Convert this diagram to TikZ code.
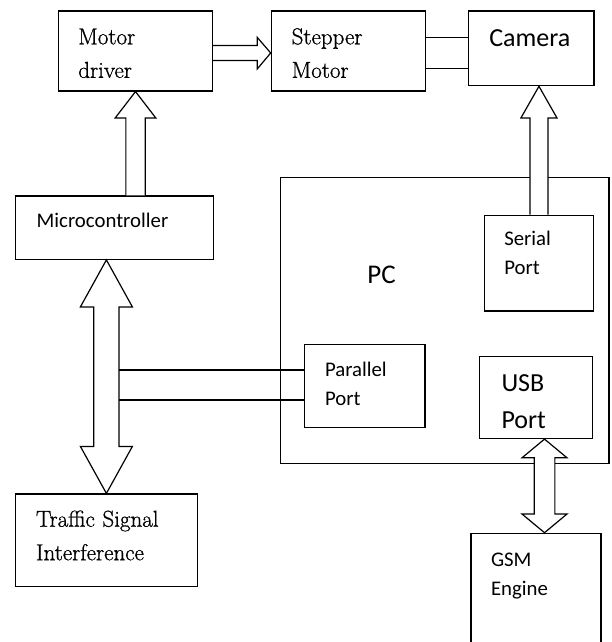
\documentclass[tikz,border=0pt]{standalone}
\usepackage{fontspec}
\setsansfont{Carlito}
\newfontfamily\bookfont{Latin Modern Roman}[FakeBold=0.9]
\usetikzlibrary{calc}

\begin{document}
\begin{tikzpicture}[x=1pt,y=-1pt,line join=miter,
  box/.style={draw,line width=1.2pt,inner sep=0pt,align=left,text height=0pt},
  rm/.style={font=\bookfont\fontsize{23}{33.5}\selectfont},
  sf/.style={font=\sffamily\fontsize{20.8}{29}\selectfont},
  sfbig/.style={font=\sffamily\fontsize{26}{36.6}\selectfont},
  blk/.style={draw,fill=white,line width=1.2pt},
  ln/.style={draw,line width=1.2pt}]
\useasboundingbox (0,0) rectangle (611,642);
\clip (0,0) rectangle (611,642);
% top row
\node[box,rm,minimum width=154pt,minimum height=80pt,text width=114.4pt,text depth=13.4pt] (md) at (135.5,51) {Motor\\driver};
\node[box,rm,minimum width=154.2pt,minimum height=80pt,text width=113.4pt,text depth=13.4pt] (sm) at (348.4,51) {Stepper\\Motor};
\node[box,sfbig,minimum width=125.5pt,minimum height=74.7pt,text width=83.9pt,text depth=3.3pt] (cam) at (531.25,48.35) {Camera};
% left column
\node[box,sf,minimum width=197.7pt,minimum height=63.3pt,text width=155.5pt,text depth=0.7pt] (mc) at (114.45,227.65) {Microcontroller};
\node[box,rm,minimum width=182.2pt,minimum height=92.5pt,text width=140.8pt,text depth=27.1pt] (tsi) at (106.4,540.25) {Traffic Signal\\Interference};
% pc and its ports
\node[box,minimum width=328.7pt,minimum height=286pt] (pc) at (444.65,320.3) {};
\node[anchor=base west,inner sep=0pt,font=\sffamily\fontsize{27}{32}\selectfont] (pctext) at (367.2,283.3) {PC};
\node[box,sf,minimum width=109.1pt,minimum height=95.7pt,text width=69.3pt,text depth=34.9pt] (sp) at (538.95,263.15) {Serial\\Port};
\node[box,sf,minimum width=120.5pt,minimum height=82.6pt,text width=79.5pt,text depth=18.6pt] (pp) at (364.75,386) {Parallel\\Port};
\node[box,sfbig,minimum width=113pt,minimum height=81.8pt,text width=69pt,text depth=11.8pt] (usb) at (536,397.6) {USB\\Port};
\node[box,sf,minimum width=130pt,minimum height=126.7pt,text width=90pt,text depth=59.9pt] (gsm) at (536,596.65) {GSM\\Engine};

% block arrows
\draw[blk] ($(md.east)+(0,-5.5)$) -- ($(sm.west)+(-13.5,-5.5)$) -- ++(0,-8.2) -- ($(sm.west)+(0,2)$) -- ++(-13.5,16) -- ++(0,-8.5) -- ($(md.east)+(0,9.5)$);
\draw[blk] ($(md.south|-mc.north)+(-9.65,0)$) |- ($(md.south)+(-20.25,26.3)$) -- (md.south) -- ++(20.25,26.3) -| ($(md.south|-mc.north)+(9.65,0)$);
\draw[blk] ($(sp.north)+(-9,0)$) |- ($(sp.north|-cam.south)+(-18,31.6)$) -- (sp.north|-cam.south) -- ++(18,31.6) -| ($(sp.north)+(9,0)$);
\draw[blk] (tsi.north|-mc.south) -- ++(-26,47) -- ++(13.4,0) -- ($(tsi.north)+(-12.6,-47)$) -- ++(-13.4,0) -- (tsi.north) -- ++(26,-47) -- ++(-13.4,0) -- ($(tsi.north|-mc.south)+(12.6,47)$) -- ++(13.4,0) -- cycle;
\draw[blk] ($(usb.south)+(8.5,0)$) -- ++(-22.5,18.7) -- ++(12.15,0) -- ($(gsm.north)+(-1.85,-18.7)$) -- ++(-12.15,0) -- ($(gsm.north)+(8.5,0)$) -- ++(22.5,-18.7) -- ++(-12.15,0) -- ($(usb.south)+(18.85,18.7)$) -- ++(12.15,0) -- cycle;

% plain lines
\draw[ln] ($(sm.east)+(0,-13.7)$) -- ($(sm.east-|cam.west)+(0,-13.7)$);
\draw[ln] ($(sm.east)+(0,17.3)$) -- ($(sm.east-|cam.west)+(0,17.3)$);
\draw[ln] ($(pp.west)+(0,-16)$) -- ($(pp.west-|tsi.north)+(12.6,-16)$);
\draw[ln] ($(pp.west)+(0,14)$) -- ($(pp.west-|tsi.north)+(12.6,14)$);
\end{tikzpicture}
\end{document}
